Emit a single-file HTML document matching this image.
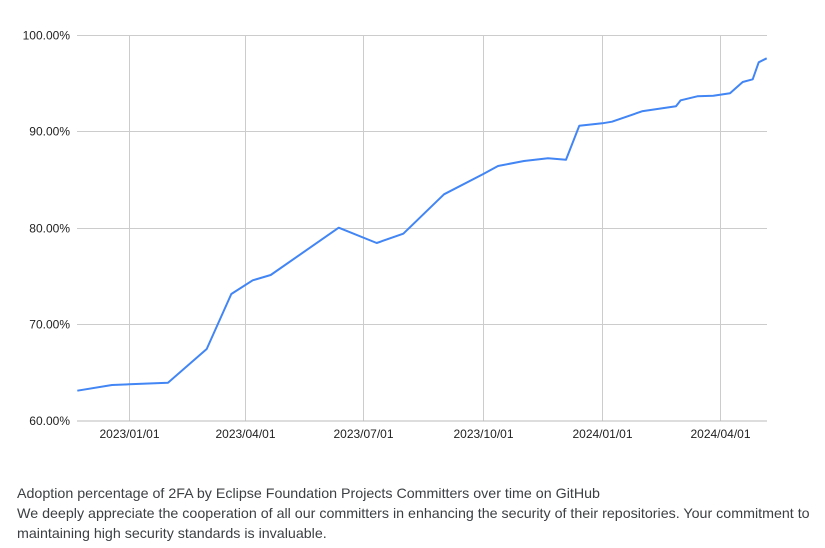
<!DOCTYPE html>
<html><head><meta charset="utf-8"><style>
html,body{margin:0;padding:0;background:#fff;width:825px;height:548px;overflow:hidden}
svg{position:absolute;left:0;top:0}
.t{position:absolute;left:17px;top:484px;width:808px;font:14.25px/20px "Liberation Sans",Arial,sans-serif;color:#3c4043}
</style></head><body>
<svg width="825" height="470" xmlns="http://www.w3.org/2000/svg" font-family="Liberation Sans, Arial, sans-serif" font-size="12" fill="#222">
<g stroke="#cccccc" stroke-width="1">
<line x1="77" y1="35.5" x2="767" y2="35.5"/>
<line x1="77" y1="131.5" x2="767" y2="131.5"/>
<line x1="77" y1="228.5" x2="767" y2="228.5"/>
<line x1="77" y1="324.5" x2="767" y2="324.5"/>
<line x1="129.5" y1="35" x2="129.5" y2="421"/>
<line x1="245.5" y1="35" x2="245.5" y2="421"/>
<line x1="363.5" y1="35" x2="363.5" y2="421"/>
<line x1="483.5" y1="35" x2="483.5" y2="421"/>
<line x1="602.5" y1="35" x2="602.5" y2="421"/>
<line x1="720.5" y1="35" x2="720.5" y2="421"/>
</g>
<line x1="77" y1="421" x2="767" y2="421" stroke="#bbbbbb" stroke-width="1"/>
<g text-anchor="end">
<text x="70" y="39.5">100.00%</text>
<text x="70" y="135.5">90.00%</text>
<text x="70" y="232.5">80.00%</text>
<text x="70" y="328.5">70.00%</text>
<text x="70" y="425">60.00%</text>
</g>
<g text-anchor="middle">
<text x="129.5" y="438">2023/01/01</text>
<text x="245.5" y="438">2023/04/01</text>
<text x="363.5" y="438">2023/07/01</text>
<text x="483.5" y="438">2023/10/01</text>
<text x="602.5" y="438">2024/01/01</text>
<text x="720.5" y="438">2024/04/01</text>
</g>
<polyline fill="none" stroke="#4285f4" stroke-width="2" stroke-linejoin="round" points="77.3,390.7 112,385 129.3,384.3 168,382.7 206.7,349 231.3,294 252.7,280.3 270.7,275 338.7,227.7 376.7,243 403.3,233.7 444,194.3 483.3,174 498,166 524,161 548,158.3 566,159.7 579.3,125.7 602.3,123.3 612,121.7 642,111.3 676,106.3 680.7,100.3 697.3,96.3 713.3,95.7 730,93.3 742.7,82 752.7,79.3 758.7,62.3 766.7,58.3"/>
</svg>
<div class="t">Adoption percentage of 2FA by Eclipse Foundation Projects Committers over time on GitHub<br>We deeply appreciate the cooperation of all our committers in enhancing the security of their repositories. Your commitment to maintaining high security standards is invaluable.</div>
</body></html>
